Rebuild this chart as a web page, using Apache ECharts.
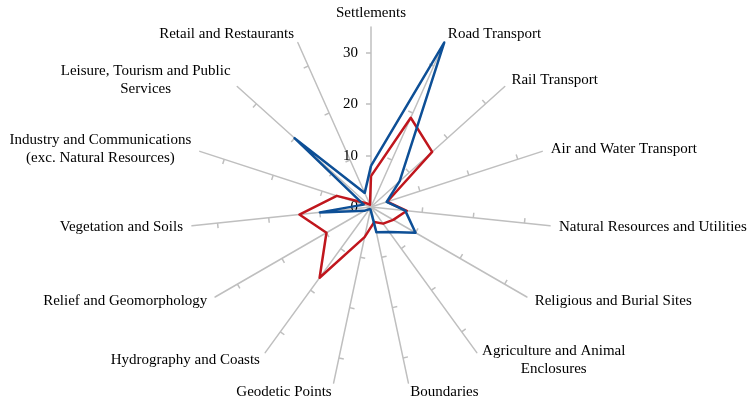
<!DOCTYPE html>
<html lang="en">
<head>
    <meta charset="UTF-8">
    <title>Radar</title>
    <script src="https://cdn.jsdelivr.net/npm/echarts@6/dist/echarts.min.js"></script>
    <style>
        html, body { margin: 0; padding: 0; background: #fff; }
    </style>
</head>
<body>
    <div id="main" style="width: 754px;height: 404px"></div>
    <script>
        // indicators in clockwise order, starting at the top
        var categories = ['Settlements', 'Road Transport', 'Rail Transport', 'Air and Water Transport',
            'Natural Resources and Utilities', 'Religious and Burial Sites', 'Agriculture and Animal\nEnclosures',
            'Boundaries', 'Geodetic Points', 'Hydrography and Coasts', 'Relief and Geomorphology',
            'Vegetation and Soils', 'Industry and Communications\n(exc. Natural Resources)',
            'Leisure, Tourism and Public\nServices', 'Retail and Restaurants'];
        var blueValues = [8, 35, 7.5, 3.2, 6.7, 10, 6, 5, 0.5, 0.5, 1.5, 10, 1.5, 20, 3];
        var redValues = [6, 19, 16, 3.3, 7, 5, 4, 3, 6, 17, 10, 14, 7, 1, 0.5];
        var axisMax = 35;
        var tickValues = [10, 20, 30];
        var tickLabels = [0, 10, 20, 30];

        // echarts radar runs counter-clockwise, so keep the first and flip the rest
        function ccw(arr) {
            return [arr[0]].concat(arr.slice(1).reverse());
        }

        var font = 'Liberation Serif';
        var myChart = echarts.init(document.getElementById('main'));

        myChart.setOption({
            animation: false,
            radar: {
                center: [371, 207],
                radius: 180,
                startAngle: 90,
                splitNumber: 7,
                nameGap: 9,
                indicator: ccw(categories).map(function (name, i) {
                    var ind = { name: name, min: 0, max: axisMax };
                    if (i === 0) {
                        // only the top spoke has numbers, and its name sits a bit closer
                        ind.axisLabel = { show: true };
                        ind.nameGap = 5;
                    }
                    return ind;
                }),
                axisName: {
                    color: '#000',
                    fontFamily: font,
                    fontSize: 15,
                    formatter: function (name) {
                        return name.split('\n').map(function (s) { return '{c|' + s + '}'; }).join('\n');
                    },
                    rich: {
                        c: { align: 'center', fontFamily: font, fontSize: 15, color: '#000', lineHeight: 18 }
                    }
                },
                axisLine: { lineStyle: { color: '#bfbfbf', width: 1.5 } },
                axisTick: {
                    show: true,
                    length: 5,
                    customValues: tickValues,
                    lineStyle: { color: '#bfbfbf', width: 1.5 }
                },
                axisLabel: {
                    show: false,
                    customValues: tickLabels,
                    margin: 13,
                    color: '#000',
                    fontFamily: font,
                    fontSize: 15
                },
                splitLine: { show: false },
                splitArea: { show: false }
            },
            series: [{
                type: 'radar',
                symbol: 'none',
                z: 2,
                data: [
                    { name: 'Red', value: ccw(redValues), lineStyle: { color: '#c0161d', width: 2.5 } },
                    { name: 'Blue', value: ccw(blueValues), lineStyle: { color: '#0d4f96', width: 2.5 } }
                ]
            }]
        });
    </script>
</body>
</html>
